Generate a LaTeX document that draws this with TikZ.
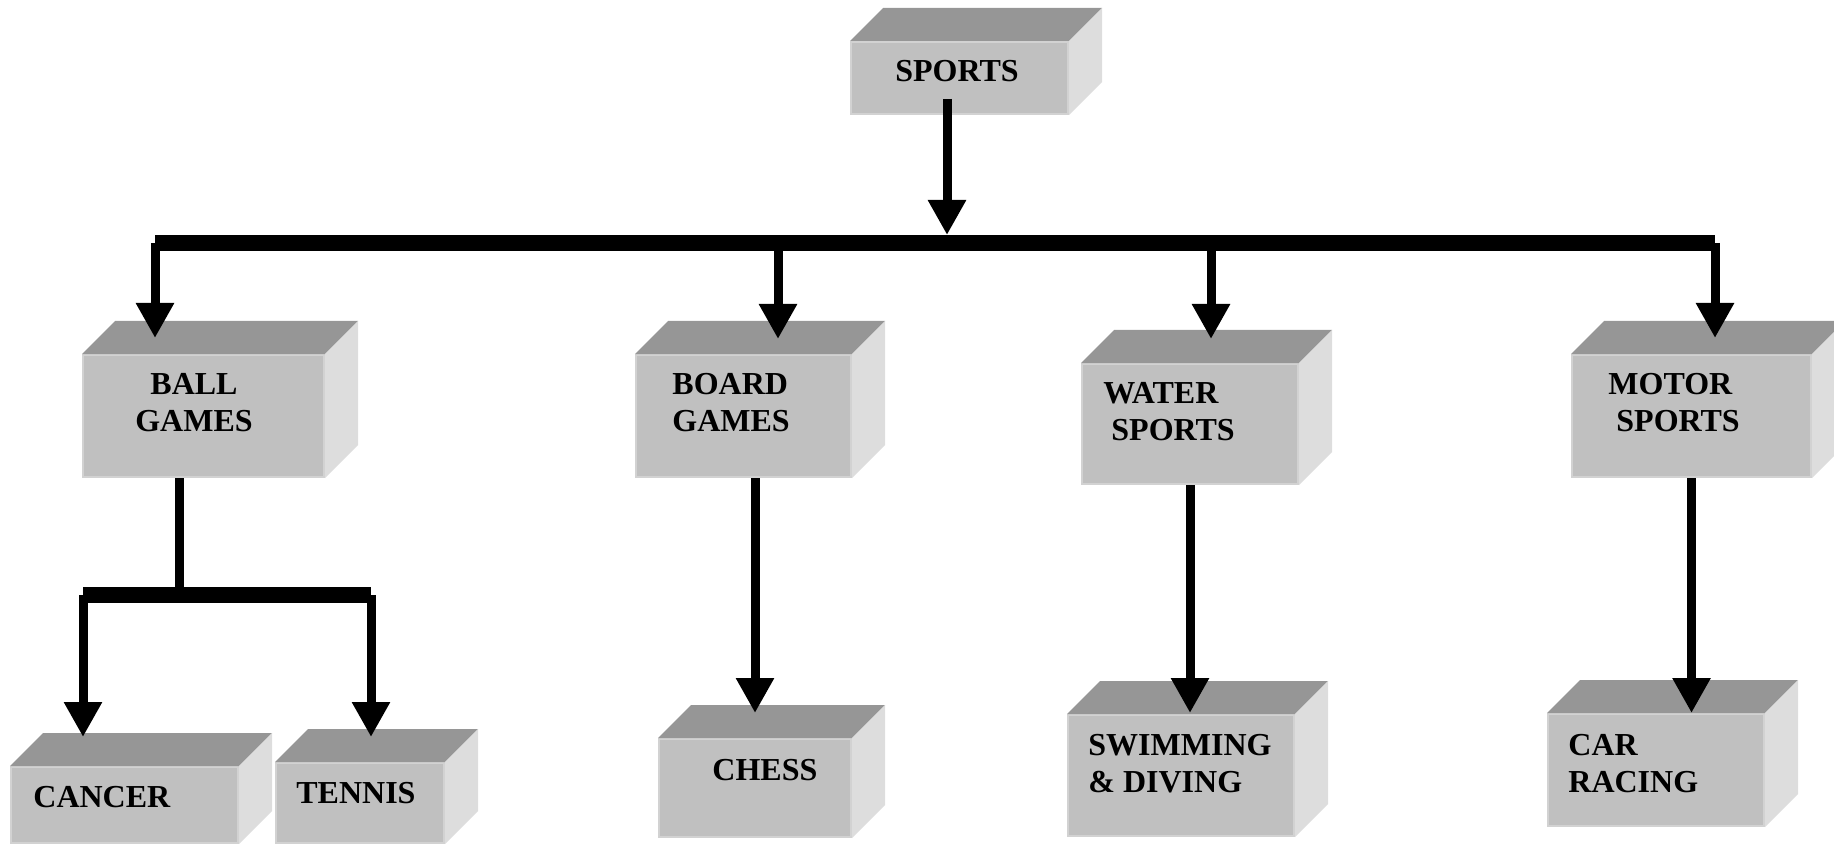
\documentclass[tikz,border=0pt]{standalone}
\usepackage{fontspec}
\setmainfont{Liberation Serif}
\usetikzlibrary{arrows.meta,calc}

\definecolor{boxfront}{HTML}{C0C0C0}
\definecolor{boxtop}{HTML}{969696}
\definecolor{boxside}{HTML}{DDDDDD}
\definecolor{boxedge}{HTML}{D2D2D2}

\tikzset{
  box/.style 2 args={rectangle, fill=boxfront, draw=boxedge, line width=1pt,
    inner sep=0pt, anchor=north west, minimum width=#1, minimum height=#2},
  lbl/.style={font=\bfseries\fontsize{16}{18.5}\selectfont, inner sep=0pt,
    align=left, anchor=west},
  link/.style={line width=4.5pt, -{Triangle[width=18pt,length=17.5pt]}},
  stem/.style={line width=4.5pt},
  bar/.style={line width=8pt},
}

\begin{document}
\begin{tikzpicture}[x=0.5pt,y=-0.5pt]
\useasboundingbox (0,0) rectangle (1834,844);

% boxes
\node[box={108.5pt}{36pt}] (sports) at (850,41) {};

\node[box={120.5pt}{61pt}] (ball) at (82,354) {};
\node[box={107.5pt}{61pt}] (board) at (635,354) {};
\node[box={108pt}{60pt}] (water) at (1081,363) {};
\node[box={119.5pt}{61pt}] (motor) at (1571,354) {};

\node[box={113.5pt}{38pt}] (cancer) at (10,766) {};
\node[box={84pt}{40pt}] (tennis) at (275,762) {};
\node[box={96pt}{49pt}] (chess) at (658,738) {};
\node[box={113pt}{60.5pt}] (swim) at (1067,714) {};
\node[box={108pt}{56pt}] (car) at (1547,713) {};

% top and side faces
\foreach \b in {sports,ball,board,water,motor,cancer,tennis,chess,swim,car}{
  \fill[boxtop] (\b.north west) -- ++(33,-33) -- ($(\b.north east)+(33,-33)$)
    -- (\b.north east) -- cycle;
  \fill[boxside] (\b.north east) -- ++(33,-33) -- ($(\b.south east)+(33,-33)$)
    -- (\b.south east) -- cycle;
}

% labels
\node[lbl, anchor=center] (sports-t) at (957,71) {SPORTS};
\node[lbl, anchor=center, align=center] (ball-t) at (194,403) {BALL\\GAMES};
\node[lbl] (board-t) at (672,403) {BOARD\\GAMES};
\node[lbl] (water-t) at (1103,412) {WATER\\\hspace*{4pt}SPORTS};
\node[lbl] (motor-t) at (1608,403) {MOTOR\\\hspace*{4pt}SPORTS};
\node[lbl] (cancer-t) at (33,797) {CANCER};
\node[lbl] (tennis-t) at (296,793) {TENNIS};
\node[lbl] (chess-t) at (712,770) {CHESS};
\node[lbl] (swim-t) at (1088,764) {SWIMMING\\\& DIVING};
\node[lbl] (car-t) at (1568,764) {CAR\\RACING};

% junctions
\coordinate (hub) at (947,235);
\coordinate (j1) at (155,243);
\coordinate (j2) at (778,243);
\coordinate (j3) at (1211,243);
\coordinate (j4) at (1715,243);
\coordinate (sub) at (179,595);
\coordinate (k1) at (83,595);
\coordinate (k2) at (371,595);

% connectors
\draw[link] ([yshift=8pt]sports.south -| hub) -- (hub);
\draw[bar] (j1) -- (j4);
\draw[link] (j1) -- ([yshift=8pt]ball.north -| j1);
\draw[link] (j2) -- ([yshift=7.5pt]board.north -| j2);
\draw[link] (j3) -- ([yshift=12pt]water.north -| j3);
\draw[link] (j4) -- ([yshift=8pt]motor.north -| j4);

\draw[stem] (ball.south -| sub) -- (sub);
\draw[bar] (k1) -- (k2);
\draw[link] (k1) -- ([yshift=14.5pt]cancer.north -| k1);
\draw[link] (k2) -- ([yshift=12.5pt]tennis.north -| k2);
\draw[link] (board.south -| chess.north) -- ([yshift=12.5pt]chess.north);
\draw[link] (water.south) -- ([yshift=0.5pt]water.south |- swim.north);
\draw[link] (motor.south) -- (motor.south |- car.north);

\end{tikzpicture}
\end{document}
